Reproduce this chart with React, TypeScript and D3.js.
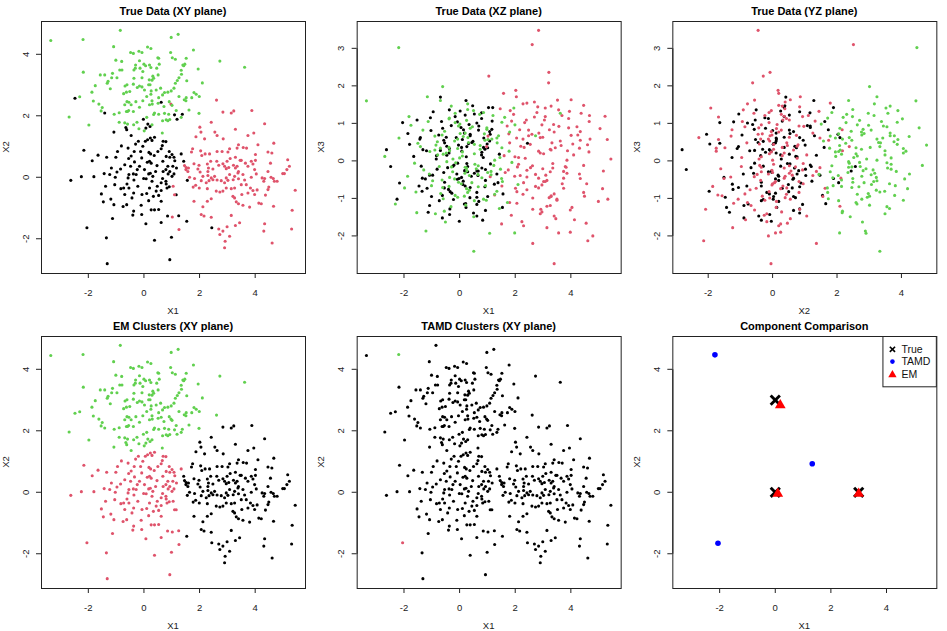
import React from 'react';
import * as d3 from 'd3';

type P = [number, number, number]; // [X1, X2, X3]

// ---- Data: simulated 3-D points, grouped by true cluster and EM / TAMD assignment ----
const trueBlackEmRed: P[] = [
  [-2.16, 0.88, -0.59], [-2.63, -0.1, 0.3], [-2.25, 0.02, -1.02], [-1.8, 0.02, 0.44], [-1.35, -1.97, -0.81],
  [-1.32, -2.81, 0.3], [-1.13, -1.34, -1.37], [-1.65, 0.72, 0.12], [-1.34, 0.65, -0.46], [-1.86, 0.54, 0.73],
  [-0.81, 1.02, -0.22], [-0.95, 0.84, 1.31], [-1.01, 0.65, -0.95], [-1.43, 0.12, 0.58], [-1.38, -0.29, -0.14],
  [-1.53, -0.54, 1.09], [-1.46, -0.8, -0.67], [-1.19, -0.71, 0.27], [-1.08, -0.89, -1.19], [-1.03, 0.0, 0.81],
  [-0.97, 0.17, -0.38], [-0.84, 0.27, 0.05], [-0.69, 0.41, 1.7], [-0.55, 0.61, -0.72], [-0.46, 0.69, 0.39],
  [-0.35, 0.84, -1.28], [-0.3, 1.08, 0.94], [-0.2, 1.17, -0.11], [-0.12, 0.84, 0.62], [-0.08, 0.63, -0.49],
  [-0.16, 0.36, 1.18], [-0.28, 0.09, -0.86], [-0.38, 0.11, 0.21], [-0.36, -0.09, -1.43], [-0.54, 0.09, 0.48],
  [-0.57, -0.02, -0.31], [-0.61, -0.22, 0.87], [-0.73, -0.35, -1.06], [-0.83, -0.37, 0.14], [-0.54, -0.35, -0.57],
  [-0.37, -0.51, 1.36], [-0.43, -0.67, -0.18], [-0.75, -0.95, 0.69], [-0.62, -0.89, -1.52], [-0.37, -1.1, 0.33],
  [-0.4, -1.23, -0.76], [-0.08, -1.21, 1.04], [-0.1, -0.91, -0.35], [0.1, -0.53, 0.57], [-0.01, -0.04, -1.61],
  [0.08, -0.05, 0.26], [0.12, 0.49, -0.63], [0.2, 0.52, 1.22], [0.26, 0.46, -0.07], [0.17, 0.11, 0.74],
  [0.23, 0.13, -1.24], [0.32, 0.03, 0.46], [0.42, 0.19, -0.41], [0.47, 0.38, 1.47], [0.37, 0.71, -0.98],
  [0.24, 0.76, 0.11], [0.18, 0.81, -0.26], [0.05, 1.17, 0.89], [0.13, 1.22, -0.54], [0.23, 1.28, 1.61],
  [0.29, 1.2, -0.15], [0.38, 1.3, 0.67], [0.62, 0.93, -1.16], [0.69, 1.17, 0.93], [0.66, 1.03, -0.39],
  [0.79, 1.16, 1.28], [0.91, 0.84, -0.69], [1.01, 0.74, 0.35], [0.93, 0.65, -1.32], [1.08, 0.65, 0.78],
  [1.11, 0.54, -0.08], [1.04, 0.36, 1.42], [0.93, 0.19, -0.52], [0.79, 0.25, 0.16], [0.69, 0.19, -1.08],
  [0.87, 0.11, 0.61], [0.67, -0.04, -0.27], [0.79, -0.13, 1.13], [0.62, -0.18, -0.84], [0.8, -0.22, 0.23],
  [0.62, -0.43, -1.47], [0.48, -0.29, 0.52], [0.53, -0.59, -0.33], [0.34, -0.62, 0.97], [0.17, -0.76, -1.15],
  [0.26, -1.06, 0.38], [0.38, -1.06, -0.71], [0.53, -1.05, 1.25], [0.07, -1.51, -0.44], [0.38, -2.05, 0.71],
  [0.62, -1.47, -0.97], [0.85, -1.26, 0.09], [1.25, -1.25, -0.62], [0.99, -1.95, 0.45], [0.93, -2.68, -0.23],
  [1.16, -0.57, 0.84], [0.83, -0.35, -1.58], [0.91, -0.31, 0.31], [1.01, 0.03, -0.95], [1.08, 0.11, 0.53],
  [1.34, 0.76, -0.35], [1.17, 0.3, 1.06], [-0.34, 0.5, -0.82], [-0.48, 0.36, 0.63], [-0.24, 0.25, -0.14],
  [0.02, 0.25, 1.33], [0.29, -0.13, -0.29], [0.44, -0.45, 0.49], [-0.22, -0.29, -1.03], [-1.05, -0.24, 1.15],
  [-1.23, 0.09, -0.48], [-0.69, -0.56, 0.28], [0.2, -0.35, -0.67], [0.68, 0.52, 0.82], [0.8, 0.68, -0.19],
  [-0.04, 1.01, 0.42], [0.5, 0.84, -1.39], [-0.57, 0.95, 0.55], [-1.17, 0.3, -0.73], [0.62, -0.78, 1.01],
  [-0.07, -0.56, -0.06], [0.86, 0.36, 0.36],
];
const trueBlackEmRedTamdRed: P[] = [[-2.05, -1.64, 1.02]];
const trueBlackEmGreen: P[] = [
  [-2.48, 2.57, -0.15], [-1.41, 2.09, 0.62], [-1.08, 1.47, -0.38], [-0.65, 1.62, 1.05], [-0.62, 1.55, -0.92],
  [-0.46, 1.36, 0.15], [-0.02, 1.89, -0.47], [0.14, 1.73, 0.83], [0.22, 1.65, -1.14], [0.07, 1.6, 0.36],
  [0.62, 2.44, -0.27], [1.1, 2.03, 0.71], [1.19, 1.89, 1.42], [1.38, 2.05, -0.58],
];
const trueBlackEmBlack: P[] = [
  [1.43, 0.52, 0.18], [1.56, -0.1, -0.88], [1.54, -1.43, -1.24], [2.44, -1.64, 0.47],
];
const trueRedEmBlack: P[] = [
  [2.84, 2.12, -0.46], [3.23, 2.16, 0.83], [3.14, 2.09, -1.21], [3.88, 2.17, 0.27], [2.42, 1.79, 1.54],
  [2.01, 1.63, -0.73], [2.05, 1.47, 0.61], [2.55, 1.47, -0.18], [2.63, 1.36, -2.2], [1.87, 1.32, 1.06],
  [2.18, 1.25, -0.39], [2.85, 1.25, 0.74], [3.29, 1.56, -0.95], [3.95, 1.44, 1.32], [3.74, 1.36, -0.28],
  [4.34, 1.74, 0.55], [3.4, 1.06, -1.47], [3.08, 0.93, 1.18], [3.35, 0.95, -0.07], [3.57, 0.97, 0.92],
  [3.69, 0.95, -0.61], [4.1, 1.06, 0.16], [4.67, 1.11, 1.21], [4.46, 0.82, -0.84], [4.6, 0.79, 0.43],
  [4.55, 0.46, -1.66], [4.01, 0.74, 0.68], [3.86, 0.52, -0.33], [4.01, 0.55, 1.63], [3.5, 0.55, -1.02],
  [3.29, 0.65, 0.29], [3.02, 0.82, -0.55], [2.81, 0.84, 1.44], [2.63, 0.84, -1.29], [2.36, 0.76, 0.07],
  [2.04, 0.86, 1.71], [1.75, 0.93, -0.24], [1.71, 0.82, 0.93], [1.52, 0.32, -0.67], [1.46, 0.38, 1.39],
  [1.6, 0.3, 0.14], [1.58, 0.19, 1.8], [1.8, 0.44, 0.48], [1.98, 0.39, -0.41], [1.94, 0.27, 1.24],
  [2.28, 0.43, -0.89], [2.32, 0.3, 0.36], [2.3, 0.19, -1.73], [2.48, 0.27, 0.82], [2.62, 0.52, -0.13],
  [2.69, 0.39, 1.57], [2.84, 0.44, -0.72], [2.9, 0.36, 0.21], [2.96, 0.28, -1.36], [3.05, 0.32, 1.09],
  [3.1, 0.61, -0.38], [2.99, 0.52, 0.63], [3.22, 0.39, -0.98], [3.29, 0.3, 1.46], [3.35, 0.36, -0.19],
  [3.4, 0.19, 0.77], [3.46, 0.55, -1.54], [3.65, 0.46, 0.41], [3.74, 0.36, -0.46], [3.92, 0.43, 1.13],
  [3.98, 0.25, -1.9], [3.86, 0.0, 0.02], [4.04, 0.11, -1.24], [4.25, -0.02, 0.69], [4.31, -0.13, -0.35],
  [4.46, 0.19, 1.48], [4.57, 0.0, -0.61], [4.65, -0.04, 0.24], [4.99, 0.12, -1.08], [5.05, 0.12, 0.86],
  [5.17, 0.57, -0.27], [5.23, 0.36, 1.19], [5.14, 0.25, -0.74], [5.44, -0.42, 0.05], [5.33, -1.07, -1.02],
  [5.31, -1.68, 0.57], [4.61, -2.14, -2.13], [4.66, -0.94, 1.05], [4.34, -1.51, -0.47], [4.31, -1.75, 0.34],
  [4.13, -0.84, -1.57], [4.22, -0.86, 0.91], [3.8, -0.97, -0.15], [3.56, -0.91, 1.36], [3.4, -0.86, -0.88],
  [3.32, -0.8, 0.48], [3.26, -0.67, -1.19], [3.2, -0.62, 2.08], [3.14, -0.37, -0.52], [2.96, -0.35, 0.96],
  [2.84, -0.45, 3.48], [2.73, -0.48, -0.36], [2.6, -0.45, 0.71], [2.9, -0.18, -1.41], [3.02, -0.1, 0.19],
  [2.96, -0.02, -0.64], [2.78, -0.11, 1.29], [2.63, -0.09, -0.99], [2.54, 0.03, 0.44], [2.42, -0.02, -0.25],
  [2.34, -0.11, 1.02], [2.24, -0.18, -1.62], [2.28, -0.37, 0.58], [2.42, -0.7, -0.77], [2.28, -0.78, 1.52],
  [2.12, -0.96, 0.09], [2.06, -1.21, -1.13], [2.16, -1.26, 0.83], [2.42, -1.3, -0.43], [2.69, -1.68, 1.17],
  [2.73, -1.86, -0.68], [2.84, -1.75, 0.26], [2.92, -2.08, -1.29], [2.9, -2.29, 0.62], [2.99, -1.61, -0.21],
  [3.08, -1.92, 1.41], [3.29, -1.57, -0.93], [3.44, -1.48, 0.35], [3.14, -1.24, -1.78], [2.48, -0.08, 0.67],
  [2.3, 0.06, -0.58], [1.82, -0.04, 1.34], [1.64, 0.0, -0.31], [1.77, -0.32, 0.72], [1.86, -0.26, -1.45],
  [1.99, -0.35, 0.11], [2.06, -0.11, -0.82], [2.02, 0.17, 1.88], [2.12, 0.03, -0.09], [3.21, -0.08, 2.36],
  [3.4, -0.05, -2.74], [3.62, -0.09, 0.53], [3.5, -0.24, -1.05], [3.68, -0.24, 1.21], [3.83, -0.35, -0.17],
  [3.92, -0.43, 0.88], [3.98, -0.56, -1.31], [4.07, -0.41, 0.45], [3.74, -0.51, -0.73], [3.52, -0.56, 1.62],
  [3.26, -0.35, -0.29], [3.38, 0.14, 0.97], [3.56, 0.09, -1.92], [3.26, 0.03, 0.31], [3.08, 0.09, -0.55],
  [1.8, -0.78, -1.11], [2.08, 0.71, -0.16], [2.4, 0.52, 1.09], [1.51, 0.25, -1.68], [2.2, 0.76, 0.39],
  [4.69, -0.13, 0.58], [4.49, -0.32, -0.94], [4.37, -0.58, 1.27], [4.46, -0.4, -0.12], [4.79, -0.13, -2.0],
  [4.34, -0.04, 0.78],
];
const trueRedEmRed: P[] = [
  [1.05, -0.29, 2.26], [1.1, -0.57, -0.42], [1.02, -1.29, 0.66], [1.26, -1.7, -0.91],
];
const trueRedEmGreen: P[] = [[0.97, 2.38, 0.38], [2.61, 2.51, 3.1]];
const trueGreenEmGreen: P[] = [
  [-3.35, 4.45, 1.6], [-0.85, 4.78, 0.42], [-1.09, 4.25, -0.35], [0.98, 4.55, 0.88], [1.23, 4.65, -0.12],
  [0.13, 4.24, 0.65], [0.25, 4.19, -0.74], [-0.48, 4.06, 0.21], [-0.38, 4.03, 1.12], [-0.18, 4.1, -0.48],
  [-0.07, 4.06, 0.33], [0.96, 4.06, -1.05], [1.02, 3.89, 0.57], [1.13, 3.84, -0.28], [0.5, 3.89, 1.34],
  [-0.16, 3.79, -0.92], [0.0, 3.68, 0.08], [0.06, 3.63, -0.61], [0.2, 3.65, 0.74], [0.25, 3.57, -0.19],
  [-0.3, 3.65, 1.46], [-0.31, 3.55, -1.22], [-0.36, 3.49, 0.27], [-0.14, 3.55, -0.05], [-0.04, 3.44, 0.93],
  [-1.01, 3.81, -0.66], [-0.8, 3.77, 0.51], [-0.87, 3.49, -1.41], [-0.79, 3.49, 0.16], [-1.13, 3.38, 1.05],
  [-1.57, 3.33, -0.83], [-1.41, 3.33, 0.38], [-1.29, 3.12, -0.24], [-1.16, 3.24, 1.71], [-0.97, 3.24, -0.53],
  [-1.32, 3.06, 0.82], [-1.21, 2.88, -1.87], [-1.75, 2.98, 0.95], [-1.87, 2.77, -0.41], [-2.18, 3.42, 0.61],
  [-2.31, 2.62, -1.15], [-2.69, 1.96, 0.12], [-1.98, 1.7, -0.72], [-1.82, 2.48, 1.18], [-1.62, 2.38, -0.06],
  [-1.5, 2.27, 0.47], [-1.54, 2.16, -1.38], [-0.89, 2.1, 0.29], [-0.68, 2.97, -0.87], [-0.61, 3.01, 1.98],
  [-0.73, 2.72, -0.15], [-0.63, 2.77, 0.69], [-0.51, 2.79, -1.63], [-0.38, 3.03, 0.36], [-0.36, 3.22, -0.44],
  [-0.16, 2.97, 1.27], [-0.07, 2.94, -0.97], [-0.24, 2.92, 0.05], [-0.07, 3.24, 0.58], [0.19, 3.17, -0.33],
  [0.29, 3.16, 1.52], [0.35, 3.22, -0.78], [0.51, 3.33, -2.41], [0.46, 3.55, 0.91], [0.55, 3.68, -0.09],
  [0.53, 3.87, 0.44], [0.22, 3.01, -1.18], [0.02, 2.84, 0.73], [0.26, 2.81, -0.26], [0.25, 2.7, 1.08],
  [0.44, 2.84, -0.58], [0.53, 2.59, 0.19], [0.51, 2.41, -1.49], [0.3, 2.38, 0.62], [0.2, 2.36, -0.17],
  [0.29, 2.49, 1.37], [0.67, 2.68, -0.69], [0.74, 2.76, 0.31], [0.86, 2.77, -1.02], [0.98, 2.81, 0.84],
  [1.08, 2.9, -1.93], [0.91, 2.46, 0.55], [1.13, 3.06, -0.37], [1.2, 3.15, 1.21], [1.26, 3.24, 0.02],
  [1.34, 3.48, -0.81], [1.4, 3.65, 0.67], [1.47, 3.68, -0.22], [1.52, 3.87, 1.03], [1.43, 3.63, -1.27],
  [1.35, 3.35, 0.48], [1.54, 3.14, -0.55], [1.78, 4.14, 0.26], [1.95, 3.52, 1.41], [2.1, 3.07, -0.63],
  [1.8, 2.76, 0.77], [1.88, 2.7, -0.04], [1.99, 2.63, 0.96], [1.72, 2.59, -1.11], [1.52, 2.59, 0.35],
  [1.51, 2.49, -0.47], [1.62, 2.19, 1.16], [1.45, 2.52, 0.09], [1.26, 2.63, -0.89], [1.98, 2.08, -1.92],
  [1.16, 2.17, 0.58], [1.01, 2.34, -0.31], [0.89, 2.05, 0.72], [0.93, 1.88, -0.66], [0.86, 1.84, 1.29],
  [0.67, 1.84, -0.13], [0.74, 2.08, 0.41], [0.53, 2.05, -1.06], [0.38, 2.09, 0.87], [0.35, 2.04, -0.39],
  [0.1, 1.95, 0.24], [0.29, 1.71, -0.84], [-0.18, 1.58, 0.53], [-0.25, 1.79, -0.29], [-0.37, 1.71, 1.14],
  [-0.63, 2.14, -0.51], [-0.59, 2.14, 0.18], [-0.55, 2.17, -1.34], [-0.54, 2.44, 0.79], [-0.46, 2.36, -0.02],
  [-0.69, 2.36, 1.61], [-0.61, 2.46, -0.71], [-0.69, 1.77, 0.34], [-0.59, 1.73, -1.01], [-0.89, 1.79, 0.66],
  [-0.29, 2.46, -0.16], [-0.16, 2.28, 1.02], [-0.04, 2.49, -0.57], [0.1, 2.63, 0.13], [0.17, 3.01, -0.94],
  [0.32, 3.29, 0.49], [0.6, 2.9, -0.21], [0.72, 2.3, 1.24], [0.8, 1.87, -0.45], [1.34, 1.95, 0.61],
  [0.66, 1.44, -0.36], [0.01, 1.51, 0.98], [2.73, 3.78, 0.67], [3.62, 3.58, 1.27], [-0.38, 2.14, -0.68],
  [-1.07, 2.05, 0.25],
];
const trueGreenEmGreenTamdGreen: P[] = [[-2.19, 4.48, 3.02]];

// Component centres (X1, X2)
const trueCentX1 = [0, 0, 3];
const trueCentX2 = [3, 0, 0];
const tamdCentX1 = [-2.17, 1.33, -2.06];
const tamdCentX2 = [4.47, 0.93, -1.66];
const emCentX1 = [0.18, 0.09, 3.0];
const emCentX2 = [2.86, -0.02, -0.02];

const ticksX1 = [-2, 0, 2, 4];
const ticksX2 = [-2, 0, 2, 4];
const ticksX3 = [-2, -1, 0, 1, 2, 3];

const legendLabels = ['True', 'TAMD', 'EM'];

// ---- styling ----
const COL: Record<string, string> = { black: '#000000', red: '#DF536B', green: '#61D04F' };
const FONT = '"Liberation Sans", Arial, Helvetica, sans-serif';
const PW = 264;
const PH = 252;
const colLeft = [41, 356.67, 672.33];
const rowTop = [21, 336];
const PT_R = 1.55;

type Group = { pts: P[]; t: string; em: string; tamd: string };
const groups: Group[] = [
  { pts: trueBlackEmRed, t: 'black', em: 'red', tamd: 'black' },
  { pts: trueBlackEmRedTamdRed, t: 'black', em: 'red', tamd: 'red' },
  { pts: trueBlackEmGreen, t: 'black', em: 'green', tamd: 'black' },
  { pts: trueBlackEmBlack, t: 'black', em: 'black', tamd: 'black' },
  { pts: trueRedEmBlack, t: 'red', em: 'black', tamd: 'black' },
  { pts: trueRedEmRed, t: 'red', em: 'red', tamd: 'black' },
  { pts: trueRedEmGreen, t: 'red', em: 'green', tamd: 'black' },
  { pts: trueGreenEmGreen, t: 'green', em: 'green', tamd: 'black' },
  { pts: trueGreenEmGreenTamdGreen, t: 'green', em: 'green', tamd: 'green' },
];

const allPts = groups.flatMap((g) => g.pts);
function padExtent(vals: number[]): [number, number] {
  const [a, b] = d3.extent(vals) as [number, number];
  const p = (b - a) * 0.04;
  return [a - p, b + p];
}
const domX1 = padExtent(allPts.map((p) => p[0]));
const domX2 = padExtent(allPts.map((p) => p[1]));
const domX3 = padExtent(allPts.map((p) => p[2]));

function fmt(v: number) {
  return v < 0 ? '-' + Math.abs(v) : String(v);
}

type Sc = d3.ScaleLinear<number, number>;

function Frame(props: {
  left: number; top: number; title: string; xLabel: string; yLabel: string;
  xs: Sc; ys: Sc; xTicks: number[]; yTicks: number[];
}) {
  const { left, top, title, xLabel, yLabel, xs, ys, xTicks, yTicks } = props;
  const bottom = top + PH;
  return (
    <g fontFamily={FONT}>
      <rect x={left + 0.5} y={top + 0.5} width={PW} height={PH} fill="none" stroke="#222" strokeWidth={1} />
      <text x={left + PW / 2} y={top - 6} textAnchor="middle" fontWeight="bold" fontSize={11}>{title}</text>
      <line x1={xs(xTicks[0])} x2={xs(xTicks[xTicks.length - 1])} y1={bottom + 0.5} y2={bottom + 0.5} stroke="#222" />
      {xTicks.map((t) => (
        <g key={'x' + t}>
          <line x1={xs(t)} x2={xs(t)} y1={bottom} y2={bottom + 5} stroke="#222" />
          <text x={xs(t)} y={bottom + 23} textAnchor="middle" fontSize={9.5} fill="#222">{fmt(t)}</text>
        </g>
      ))}
      <text x={left + PW / 2} y={bottom + 41} textAnchor="middle" fontSize={9.5} fill="#222">{xLabel}</text>
      <line x1={left + 0.5} x2={left + 0.5} y1={ys(yTicks[0])} y2={ys(yTicks[yTicks.length - 1])} stroke="#222" />
      {yTicks.map((t) => (
        <g key={'y' + t}>
          <line x1={left - 5} x2={left} y1={ys(t)} y2={ys(t)} stroke="#222" />
          <text transform={`translate(${left - 12.5},${ys(t)}) rotate(-90)`} textAnchor="middle" fontSize={9.5} fill="#222">{fmt(t)}</text>
        </g>
      ))}
      <text transform={`translate(${left - 32.5},${top + PH / 2}) rotate(-90)`} textAnchor="middle" fontSize={9.5} fill="#222">{yLabel}</text>
    </g>
  );
}

function Scatter(props: { r: number; c: number; title: string; xi: number; yi: number; xLabel: string; yLabel: string; colorKey: 't' | 'em' | 'tamd' }) {
  const { r, c, title, xi, yi, xLabel, yLabel, colorKey } = props;
  const doms = [domX1, domX2, domX3];
  const tks = [ticksX1, ticksX2, ticksX3];
  const left = colLeft[c];
  const top = rowTop[r];
  const xs = d3.scaleLinear().domain(doms[xi]).range([left, left + PW]);
  const ys = d3.scaleLinear().domain(doms[yi]).range([top + PH, top]);
  return (
    <g>
      <Frame left={left} top={top} title={title} xLabel={xLabel} yLabel={yLabel} xs={xs} ys={ys} xTicks={tks[xi]} yTicks={tks[yi]} />
      {groups.map((g, gi) =>
        g.pts.map((p, i) => (
          <circle key={gi + '-' + i} cx={xs(p[xi])} cy={ys(p[yi])} r={PT_R} fill={COL[g[colorKey]]} />
        ))
      )}
    </g>
  );
}

function Comparison() {
  const left = colLeft[2];
  const top = rowTop[1];
  const xs = d3.scaleLinear().domain(domX1).range([left, left + PW]);
  const ys = d3.scaleLinear().domain(domX2).range([top + PH, top]);
  const tri = d3.symbol().type(d3.symbolTriangle).size(50)();
  const triSmall = d3.symbol().type(d3.symbolTriangle).size(30)();
  const cross = (x: number, y: number, s: number, w: number, k: string) => (
    <g key={k} stroke="#000" strokeWidth={w} strokeLinecap="butt">
      <line x1={x - s} y1={y - s} x2={x + s} y2={y + s} />
      <line x1={x - s} y1={y + s} x2={x + s} y2={y - s} />
    </g>
  );
  const lx = left + PW - 53.4;
  const rowY = [349.3, 361.6, 374.3];
  return (
    <g>
      <Frame left={left} top={top} title="Component Comparison" xLabel="X1" yLabel="X2" xs={xs} ys={ys} xTicks={ticksX1} yTicks={ticksX2} />
      {trueCentX1.map((v, i) => cross(xs(v), ys(trueCentX2[i]), 4.6, 2.9, 't' + i))}
      {tamdCentX1.map((v, i) => (
        <circle key={'m' + i} cx={xs(v)} cy={ys(tamdCentX2[i])} r={2.8} fill="#0000FF" />
      ))}
      {emCentX1.map((v, i) => (
        <path key={'e' + i} d={tri as string} transform={`translate(${xs(v)},${ys(emCentX2[i]) + 0.8})`} fill="#FF0000" />
      ))}
      <rect x={lx} y={top + 0.5} width={53.4} height={50.3} fill="#fff" stroke="#222" />
      {cross(lx + 9.5, rowY[0], 2.6, 1.6, 'lg0')}
      <circle cx={lx + 9.5} cy={rowY[1]} r={2.3} fill="#0000FF" />
      <path d={triSmall as string} transform={`translate(${lx + 9.5},${rowY[2] + 0.6})`} fill="#FF0000" />
      {legendLabels.map((l, i) => (
        <text key={l} x={lx + 18.5} y={rowY[i] + 3.8} fontSize={10.5} fontFamily={FONT} fill="#111">{l}</text>
      ))}
    </g>
  );
}

export default function App() {
  return (
    <svg width={947} height={631} style={{ position: 'absolute', left: 0, top: 0, background: '#fff' }}>
      <rect x={0} y={0} width={947} height={631} fill="#fff" />
      <Scatter r={0} c={0} title="True Data (XY plane)" xi={0} yi={1} xLabel="X1" yLabel="X2" colorKey="t" />
      <Scatter r={0} c={1} title="True Data (XZ plane)" xi={0} yi={2} xLabel="X1" yLabel="X3" colorKey="t" />
      <Scatter r={0} c={2} title="True Data (YZ plane)" xi={1} yi={2} xLabel="X2" yLabel="X3" colorKey="t" />
      <Scatter r={1} c={0} title="EM Clusters (XY plane)" xi={0} yi={1} xLabel="X1" yLabel="X2" colorKey="em" />
      <Scatter r={1} c={1} title="TAMD Clusters (XY plane)" xi={0} yi={1} xLabel="X1" yLabel="X2" colorKey="tamd" />
      <Comparison />
    </svg>
  );
}
